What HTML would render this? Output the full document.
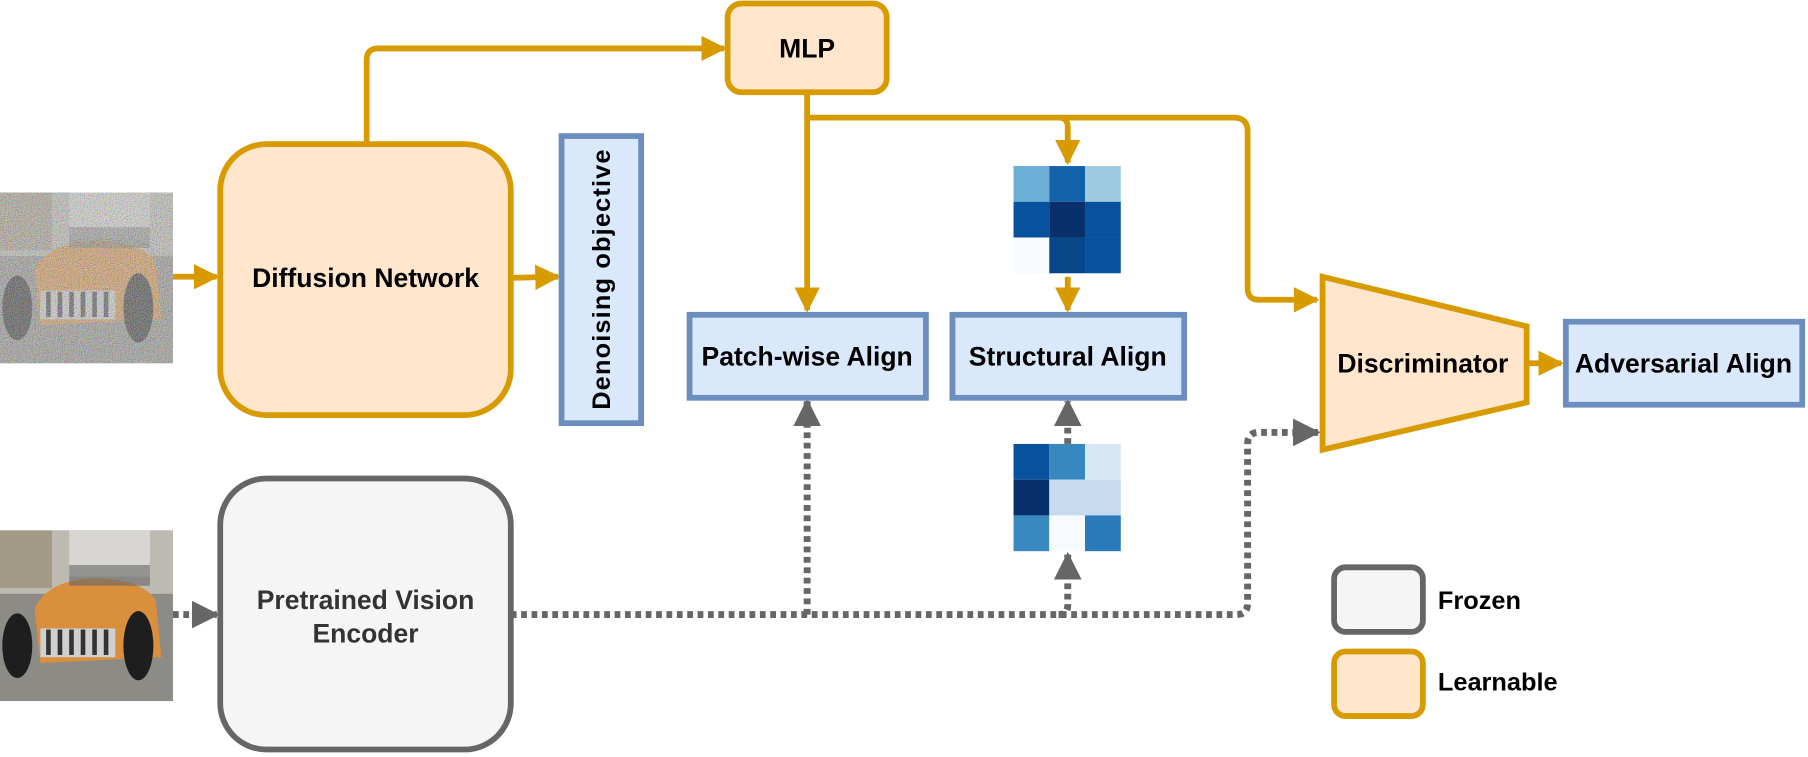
<!DOCTYPE html>
<html><head><meta charset="utf-8"><style>
html,body{margin:0;padding:0;background:#fff;}
svg{display:block;}
text{font-family:"Liberation Sans",Arial,sans-serif;font-weight:bold;fill:#000;}
</style></head><body>
<svg width="1808" height="757" viewBox="0 0 1568 656.5" xmlns="http://www.w3.org/2000/svg">
<defs>
<marker id="ao" viewBox="0 0 10 10" refX="9" refY="5" markerWidth="4.4" markerHeight="4.4" orient="auto" markerUnits="strokeWidth"><path d="M0,0 L10,5 L0,10 z" fill="#d79b00"/></marker>
<marker id="ag" viewBox="0 0 10 10" refX="9" refY="5" markerWidth="4" markerHeight="4" orient="auto" markerUnits="strokeWidth"><path d="M0,0 L10,5 L0,10 z" fill="#666"/></marker>
<filter id="noise" x="0" y="0" width="100%" height="100%"><feTurbulence type="fractalNoise" baseFrequency="1.2" numOctaves="2" seed="3"/><feColorMatrix type="matrix" values="1.6 0 0 0 -0.3  0 1.6 0 0 -0.3  0 0 1.6 0 -0.3  0 0 0 0 0.6"/><feComposite in2="SourceGraphic" operator="in"/></filter>
<g id="car">
<rect x="0" y="0" width="150" height="148" fill="#8d8b86"/>
<rect x="0" y="0" width="150" height="55" fill="#bdbab2"/>
<rect x="0" y="0" width="45" height="50" fill="#a39a88"/>
<rect x="60" y="0" width="70" height="40" fill="#d8d6d2"/>
<path d="M30,68 Q40,45 75,42 Q120,40 135,60 L140,110 L35,115 Z" fill="#d98f3c"/>
<rect x="35" y="85" width="65" height="25" fill="#cfcfcf"/>
<g fill="#333"><rect x="40" y="86" width="4" height="22"/><rect x="50" y="86" width="4" height="22"/><rect x="60" y="86" width="4" height="22"/><rect x="70" y="86" width="4" height="22"/><rect x="80" y="86" width="4" height="22"/><rect x="90" y="86" width="4" height="22"/></g>
<ellipse cx="15" cy="100" rx="13" ry="28" fill="#1e1e1e"/>
<ellipse cx="120" cy="100" rx="13" ry="30" fill="#1e1e1e"/>
<rect x="60" y="30" width="70" height="18" fill="#666" opacity=".6"/>
</g>
</defs>

<g transform="translate(0,167)"><use href="#car"/><rect x="0" y="0" width="150" height="148" fill="#888" filter="url(#noise)"/></g>
<g transform="translate(0,460)"><use href="#car"/></g>

<g stroke="#d79b00" stroke-width="5" fill="none">
<line x1="150" y1="240" x2="188" y2="240" marker-end="url(#ao)"/>
<line x1="443" y1="241" x2="484" y2="240" marker-end="url(#ao)"/>
<path d="M318,125 V52 Q318,42 328,42 H628" marker-end="url(#ao)"/>
<line x1="700" y1="80" x2="700" y2="269" marker-end="url(#ao)"/>
<path d="M700,102 H1070 Q1082,102 1082,114 V250 Q1082,260 1092,260 H1142" marker-end="url(#ao)"/>
<path d="M918,102 Q926,102 926,110 V141" marker-end="url(#ao)"/>
<line x1="926" y1="240" x2="926" y2="269" marker-end="url(#ao)"/>
<line x1="1325" y1="315" x2="1354" y2="315" marker-end="url(#ao)"/>
</g>

<g stroke="#666" stroke-width="6" fill="none" stroke-dasharray="5,4">
<line x1="150" y1="533" x2="188" y2="533" marker-end="url(#ag)"/>
<path d="M443,533 H1072 Q1082,533 1082,523 V385 Q1082,375 1092,375 H1143" marker-end="url(#ag)"/>
<line x1="700" y1="533" x2="700" y2="348" marker-end="url(#ag)"/>
<path d="M918,533 Q926,533 926,525 V481" marker-end="url(#ag)"/>
<line x1="926" y1="385" x2="926" y2="348" marker-end="url(#ag)"/>
</g>

<rect x="191" y="125" width="252" height="235" rx="40" fill="#ffe6cc" stroke="#d79b00" stroke-width="5"/>
<text x="317" y="249" font-size="23" text-anchor="middle">Diffusion Network</text>
<rect x="487" y="118" width="69" height="249" fill="#dae8fc" stroke="#6c8ebf" stroke-width="5"/>
<text transform="translate(529,242) rotate(-90)" font-size="22" letter-spacing="1" text-anchor="middle">Denoising objective</text>
<rect x="631" y="3" width="138" height="77" rx="12" fill="#ffe6cc" stroke="#d79b00" stroke-width="5"/>
<text x="700" y="50" font-size="23" text-anchor="middle">MLP</text>
<rect x="191" y="415" width="252" height="235" rx="40" fill="#f5f5f5" stroke="#666" stroke-width="5"/>
<text x="317" y="528" font-size="23" text-anchor="middle" style="fill:#333">Pretrained Vision</text>
<text x="317" y="557" font-size="23" text-anchor="middle" style="fill:#333">Encoder</text>

<rect x="598" y="273" width="205" height="72" fill="#dae8fc" stroke="#6c8ebf" stroke-width="5"/>
<text x="700" y="317" font-size="23" text-anchor="middle">Patch-wise Align</text>
<rect x="826" y="273" width="201" height="72" fill="#dae8fc" stroke="#6c8ebf" stroke-width="5"/>
<text x="926" y="317" font-size="23" text-anchor="middle">Structural Align</text>
<rect x="1358" y="279" width="205" height="72" fill="#dae8fc" stroke="#6c8ebf" stroke-width="5"/>
<text x="1460" y="323" font-size="23" text-anchor="middle">Adversarial Align</text>

<path d="M1147,240 L1324,283 L1324,349 L1147,390 Z" fill="#ffe6cc" stroke="#d79b00" stroke-width="5"/>
<text x="1234" y="323" font-size="23" text-anchor="middle">Discriminator</text>

<g transform="translate(879,144)">
<rect x="0" y="0" width="31" height="31" fill="#6baed6"/><rect x="31" y="0" width="31" height="31" fill="#1361a9"/><rect x="62" y="0" width="31" height="31" fill="#9ecae1"/>
<rect x="0" y="31" width="31" height="31" fill="#08519c"/><rect x="31" y="31" width="31" height="31" fill="#08306b"/><rect x="62" y="31" width="31" height="31" fill="#08519c"/>
<rect x="0" y="62" width="31" height="31" fill="#f7fbff"/><rect x="31" y="62" width="31" height="31" fill="#08468a"/><rect x="62" y="62" width="31" height="31" fill="#08519c"/>
</g>
<g transform="translate(879,385)">
<rect x="0" y="0" width="31" height="31" fill="#08519c"/><rect x="31" y="0" width="31" height="31" fill="#3787c0"/><rect x="62" y="0" width="31" height="31" fill="#d6e6f4"/>
<rect x="0" y="31" width="31" height="31" fill="#08306b"/><rect x="31" y="31" width="62" height="31" fill="#c6dbef"/>
<rect x="0" y="62" width="31" height="31" fill="#3a8ac2"/><rect x="31" y="62" width="31" height="31" fill="#f7fbff"/><rect x="62" y="62" width="31" height="31" fill="#2b7bba"/>
</g>

<rect x="1157" y="492" width="77" height="56" rx="10" fill="#f5f5f5" stroke="#666" stroke-width="5"/>
<text x="1247" y="528" font-size="22">Frozen</text>
<rect x="1157" y="565" width="77" height="56" rx="10" fill="#ffe6cc" stroke="#d79b00" stroke-width="5"/>
<text x="1247" y="599" font-size="22">Learnable</text>
</svg>
</body></html>
